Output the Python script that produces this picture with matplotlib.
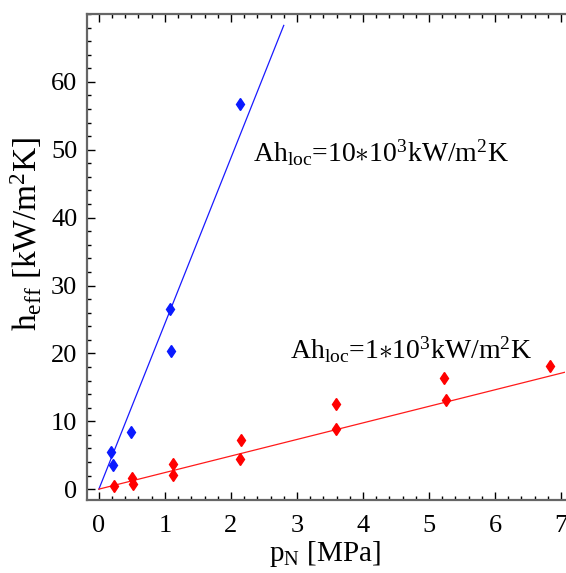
import matplotlib
matplotlib.use("Agg")
import matplotlib.pyplot as plt
from matplotlib.ticker import MultipleLocator, FixedLocator

plt.rcParams['font.family'] = ['Liberation Serif', 'DejaVu Serif']
plt.rcParams['mathtext.fontset'] = 'custom'
plt.rcParams['mathtext.rm'] = 'Liberation Serif'
plt.rcParams['mathtext.it'] = 'Liberation Serif:italic'

# measured effective heat transfer coefficients
p_blue = [0.18, 0.22, 0.485, 1.07, 1.085, 2.14]
h_blue = [5.5, 3.6, 8.4, 26.6, 20.4, 56.8]
p_red = [0.23, 0.505, 0.52, 1.12, 1.12, 2.15, 2.14, 3.59, 3.59, 5.23, 5.26, 6.84]
h_red = [0.5, 1.67, 0.69, 3.7, 2.1, 7.2, 4.4, 12.5, 8.8, 16.4, 13.1, 18.2]

# model lines h = k * p
slope_blue = 24.4
slope_red = 2.44
p_line_blue = [0.0, 2.8]
p_line_red = [0.0, 7.1]

y_ticks = [0, 10, 20, 30, 40, 50, 60]
x_ticks = [0, 1, 2, 3, 4, 5, 6, 7]

fig = plt.figure(figsize=(5.66, 5.73), dpi=100)
ax = fig.add_axes([87 / 566, 1 - 500 / 573, (565 - 87) / 566, (500 - 14) / 573])

ax.plot(p_line_blue, [slope_blue * p for p in p_line_blue], color='#1a1aff', lw=0.9)
ax.plot(p_line_red, [slope_red * p for p in p_line_red], color='#ff1a1a', lw=0.9)
ax.plot(p_blue, h_blue, linestyle='none', marker='d', color='#0a1aff', ms=6.5)
ax.plot(p_red, h_red, linestyle='none', marker='d', color='#ff0000', ms=6.5)

ax.set_xlim(-0.18, 7.06)
ax.set_ylim(-1.6, 70)

ax.xaxis.set_major_locator(FixedLocator(x_ticks))
ax.xaxis.set_minor_locator(MultipleLocator(0.2))
ax.yaxis.set_major_locator(FixedLocator(y_ticks))
ax.yaxis.set_minor_locator(MultipleLocator(2))
ax.tick_params(which='both', direction='in', top=True, right=False, width=1.0, color='black',
               labelsize=19)
ax.tick_params(axis='x', which='major', pad=11)
ax.tick_params(axis='y', which='major', pad=7)
ax.tick_params(which='major', length=6)
ax.tick_params(which='minor', length=3)

for s in ['left', 'bottom', 'top']:
    ax.spines[s].set_color('#666666')
    ax.spines[s].set_linewidth(1.6)
ax.spines['right'].set_visible(False)

ax.set_xlabel(r'p$_\mathrm{N}$ [MPa]', fontsize=21, va='center')
ax.xaxis.set_label_coords(0.498, -0.112)
ax.set_ylabel(r'h$_\mathrm{eff}$ [kW/m$^2$K]', fontsize=24, va='center')
ax.yaxis.set_label_coords(-0.128, 0.547)

ax.text(2.33, 49.6, r'Ah$_\mathrm{loc}$=10$\ast$10$^3$kW/m$^2$K', fontsize=20, va='center', ha='left')
ax.text(2.89, 20.5, r'Ah$_\mathrm{loc}$=1$\ast$10$^3$kW/m$^2$K', fontsize=20, va='center', ha='left')

fig.savefig('out.png', dpi=100)
